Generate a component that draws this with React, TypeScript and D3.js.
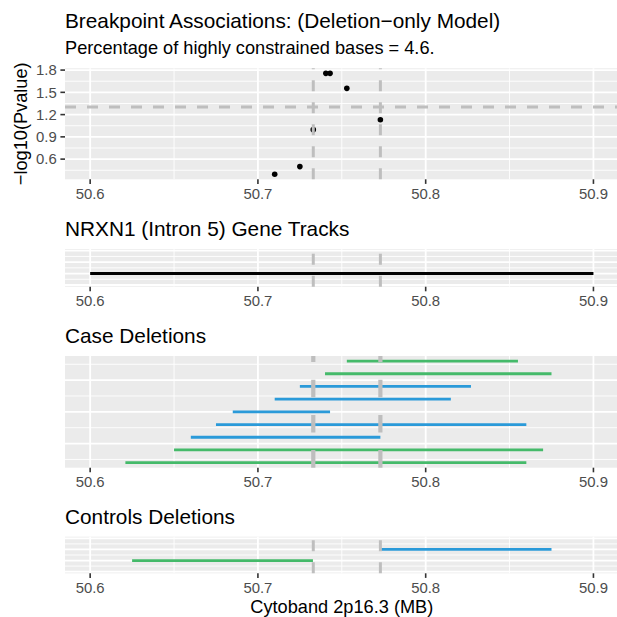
import React from "react";
import * as d3 from "d3";

const W = 617;
const H = 617;
const FONT = "'Liberation Sans', Arial, Helvetica, sans-serif";

// ---- data ----
const xTicks = [50.6, 50.7, 50.8, 50.9];
const xMinorTicks = [50.65, 50.75, 50.85];
const breakpoints = [50.733, 50.773];

const assocX = [50.71, 50.725, 50.733, 50.7405, 50.743, 50.753, 50.773];
const assocY = [0.396, 0.499, 0.997, 1.756, 1.756, 1.554, 1.131];
const sigThreshold = 1.301;
const pTicks = [0.6, 0.9, 1.2, 1.5, 1.8];
const pMinorTicks = [0.45, 0.75, 1.05, 1.35, 1.65];

const geneStart = [50.6];
const geneEnd = [50.9];
const geneRow = [1];

const caseStart = [50.753, 50.74, 50.725, 50.71, 50.685, 50.675, 50.66, 50.65, 50.621];
const caseEnd = [50.855, 50.875, 50.827, 50.815, 50.743, 50.86, 50.773, 50.87, 50.86];
const caseRow = [9, 8, 7, 6, 5, 4, 3, 2, 1];
const caseType = ["A", "A", "B", "B", "B", "B", "B", "A", "A"];

const ctrlStart = [50.7733, 50.625];
const ctrlEnd = [50.875, 50.7328];
const ctrlRow = [2, 1];
const ctrlType = ["B", "A"];

const typeColor: Record<string, string> = { A: "#45BA6A", B: "#2A9AD9" };

const x = d3.scaleLinear().domain([50.585, 50.915]).range([65, 618.6]);

type PanelProps = {
  top: number;
  bottom: number;
  yDomain: [number, number];
  yMajor: number[];
  yMinor: number[];
  children: (y: d3.ScaleLinear<number, number>) => React.ReactNode;
};

function Panel({ top, bottom, yDomain, yMajor, yMinor, children }: PanelProps) {
  const y = d3.scaleLinear().domain(yDomain).range([bottom, top]);
  const [x0, x1] = x.range();
  return (
    <g>
      <rect x={x0} y={top} width={x1 - x0} height={bottom - top} fill="#EBEBEB" />
      {yMinor.map((v) => (
        <line key={"ym" + v} x1={x0} x2={x1} y1={y(v)} y2={y(v)} stroke="#fff" strokeWidth={0.9} />
      ))}
      {xMinorTicks.map((v) => (
        <line key={"xm" + v} x1={x(v)} x2={x(v)} y1={top} y2={bottom} stroke="#fff" strokeWidth={0.9} />
      ))}
      {yMajor.map((v) => (
        <line key={"yM" + v} x1={x0} x2={x1} y1={y(v)} y2={y(v)} stroke="#fff" strokeWidth={1.8} />
      ))}
      {xTicks.map((v) => (
        <line key={"xM" + v} x1={x(v)} x2={x(v)} y1={top} y2={bottom} stroke="#fff" strokeWidth={1.8} />
      ))}
      {children(y)}
      {xTicks.map((v) => (
        <g key={"xt" + v}>
          <line x1={x(v)} x2={x(v)} y1={bottom} y2={bottom + 4.6} stroke="#333" strokeWidth={1.6} />
          <text x={x(v)} y={bottom + 19.5} textAnchor="middle" fontSize={14.9} fill="#4D4D4D" fontFamily={FONT}>
            {v.toFixed(1)}
          </text>
        </g>
      ))}
    </g>
  );
}

function VLines({ y, width, dash }: { y: d3.ScaleLinear<number, number>; width: number; dash: number }) {
  const [b, t] = y.range();
  return (
    <>
      {breakpoints.map((v) => (
        <line
          key={"vl" + v}
          x1={x(v)}
          x2={x(v)}
          y1={b}
          y2={t}
          stroke="#BEBEBE"
          strokeWidth={width}
          strokeDasharray={`${dash} ${dash}`}
        />
      ))}
    </>
  );
}

function Segs({
  y,
  s,
  e,
  r,
  c,
  w,
}: {
  y: d3.ScaleLinear<number, number>;
  s: number[];
  e: number[];
  r: number[];
  c: string[];
  w: number;
}) {
  return (
    <>
      {s.map((v, i) => (
        <line key={"sg" + i} x1={x(v)} x2={x(e[i])} y1={y(r[i])} y2={y(r[i])} stroke={c[i]} strokeWidth={w} />
      ))}
    </>
  );
}

export default function App() {
  const titleStyle = { fontFamily: FONT, fontSize: 20.8, fill: "#000" };
  return (
    <svg
      width={W}
      height={H}
      style={{ position: "absolute", left: 0, top: 0, background: "#fff" }}
      xmlns="http://www.w3.org/2000/svg"
    >
      <rect width={W} height={H} fill="#fff" />
      <text x={65} y={28} {...titleStyle}>
        Breakpoint Associations: (Deletion−only Model)
      </text>
      <text x={65} y={53.5} fontFamily={FONT} fontSize={18.2} fill="#000">
        Percentage of highly constrained bases = 4.6.
      </text>

      {/* Top panel */}
      <Panel top={68.3} bottom={179.3} yDomain={[0.328, 1.824]} yMajor={pTicks} yMinor={pMinorTicks}>
        {(y) => (
          <>
            <line
              x1={x.range()[0]}
              x2={x.range()[1]}
              y1={y(sigThreshold)}
              y2={y(sigThreshold)}
              stroke="#BEBEBE"
              strokeWidth={3}
              strokeDasharray="11 11"
            />
            {assocX.map((v, i) => (
              <circle key={"pt" + i} cx={x(v)} cy={y(assocY[i])} r={2.8} fill="#000" />
            ))}
            <VLines y={y} width={3} dash={11} />
            {pTicks.map((v) => (
              <g key={"yt" + v}>
                <line x1={60.4} x2={65} y1={y(v)} y2={y(v)} stroke="#333" strokeWidth={1.6} />
                <text
                  x={56.7}
                  y={y(v) + 5.2}
                  textAnchor="end"
                  fontSize={14.9}
                  fill="#4D4D4D"
                  fontFamily={FONT}
                >
                  {v.toFixed(1)}
                </text>
              </g>
            ))}
          </>
        )}
      </Panel>
      <text
        transform={`translate(26.5, ${(68.3 + 179.3) / 2}) rotate(-90)`}
        textAnchor="middle"
        fontFamily={FONT}
        fontSize={18.2}
        fill="#000"
      >
        −log10(Pvalue)
      </text>

      {/* Gene tracks */}
      <text x={65} y={236} {...titleStyle}>
        NRXN1 (Intron 5) Gene Tracks
      </text>
      <Panel top={249} bottom={286.7} yDomain={[-0.15, 3.15]} yMajor={[0, 1, 2, 3]} yMinor={[0.5, 1.5, 2.5]}>
        {(y) => (
          <>
            <VLines y={y} width={3} dash={11} />
            <Segs y={y} s={geneStart} e={geneEnd} r={geneRow} c={["#000"]} w={3} />
          </>
        )}
      </Panel>

      {/* Case deletions */}
      <text x={65} y={342.5} {...titleStyle}>
        Case Deletions
      </text>
      <Panel top={356} bottom={467.7} yDomain={[0.6, 9.4]} yMajor={[2.5, 5, 7.5]} yMinor={[1.25, 3.75, 6.25, 8.75]}>
        {(y) => (
          <>
            <Segs y={y} s={caseStart} e={caseEnd} r={caseRow} c={caseType.map((t) => typeColor[t])} w={2.8} />
            <VLines y={y} width={4.2} dash={17.6} />
          </>
        )}
      </Panel>

      {/* Controls deletions */}
      <text x={65} y={523.5} {...titleStyle}>
        Controls Deletions
      </text>
      <Panel top={536.7} bottom={573.3} yDomain={[-0.15, 3.15]} yMajor={[0, 1, 2, 3]} yMinor={[0.5, 1.5, 2.5]}>
        {(y) => (
          <>
            <Segs y={y} s={ctrlStart} e={ctrlEnd} r={ctrlRow} c={ctrlType.map((t) => typeColor[t])} w={2.8} />
            <VLines y={y} width={3} dash={11} />
          </>
        )}
      </Panel>

      <text x={(65 + 618.6) / 2} y={612.5} textAnchor="middle" fontFamily={FONT} fontSize={18.2} fill="#000">
        Cytoband 2p16.3 (MB)
      </text>
    </svg>
  );
}
